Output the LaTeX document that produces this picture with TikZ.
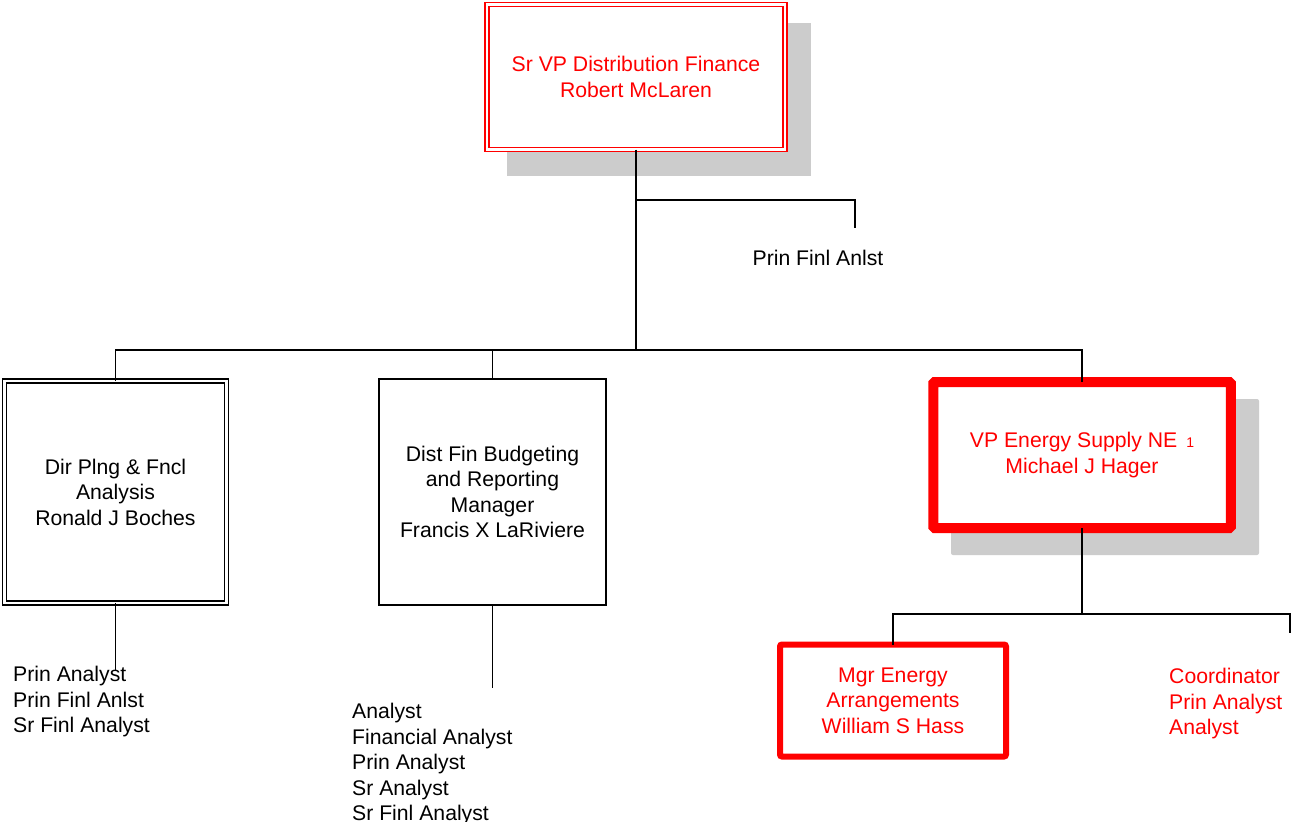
\documentclass[tikz,border=0pt]{standalone}
\usepackage{fontspec}
\setmainfont{Liberation Sans}
\definecolor{rd}{RGB}{255,0,0}
\definecolor{shd}{RGB}{204,204,204}
\begin{document}
\begin{tikzpicture}[x=1pt,y=-1pt,
  txt/.style={font=\fontsize{21.2}{25.5}\selectfont, align=center, inner sep=0pt, outer sep=0pt},
  lst/.style={font=\fontsize{21.2}{25.5}\selectfont, align=left, inner sep=0pt, anchor=north west},
  boxbase/.style={txt, fill=white, draw},
  dblbox/.style={boxbase, double, line width=1.6pt, double distance=2.4pt},
  conn/.style={draw=black, line width=1.5pt},
  shadowbox/.style={fill=shd, draw=none}]
\useasboundingbox (0,0) rectangle (1291,822);
\fill[white] (0,0) rectangle (1291,822);
% shadows
\fill[shd] (507,23) rectangle (811,176);
\fill[shd, rounded corners=2pt] (951,399) rectangle (1259,555);
% connector coordinates
\coordinate (bus1) at (636,350);
\coordinate (pf) at (636,200);
\coordinate (pfend) at (855,228);
\coordinate (bus2) at (1082,614);
\coordinate (coordend) at (1290,633);
\coordinate (leftend) at (115.5,670);
\coordinate (midend) at (492.5,688);
% boxes
\node[dblbox, draw=rd, text=rd, minimum width=298pt, minimum height=145pt] (top) at (636,77)
  {Sr VP Distribution Finance\\Robert McLaren};
\node[dblbox, draw=black, minimum width=222pt, minimum height=222pt] (left) at (115.5,492)
  {Dir Plng \& Fncl\\Analysis\\Ronald J Boches};
\node[boxbase, line width=1.3pt, minimum width=227pt, minimum height=226pt] (mid) at (492.5,492)
  {Dist Fin Budgeting\\and Reporting\\Manager\\Francis X LaRiviere};
\node[boxbase, draw=rd, text=rd, line width=10pt, rounded corners=1.5pt, minimum width=297.5pt, minimum height=146pt] (vp) at (1082,455)
  {VP Energy Supply NE\hspace{9pt}{\fontsize{14}{14}\selectfont 1}\\Michael J Hager};
\node[boxbase, draw=rd, text=rd, line width=6pt, rounded corners=2pt, minimum width=226pt, minimum height=112pt] (mgr) at (893,700.5)
  {Mgr Energy\\Arrangements\\William S Hass};
% connector lines
\draw[conn] (top.south) -- (bus1);
\draw[conn] (pf) -| (pfend);
\draw[conn] (left.north) |- (bus1) -| (vp.north);
\draw[conn] (mid.north) -- (mid.north |- bus1);
\draw[conn] (left.south) -- (leftend);
\draw[conn] (mid.south) -- (midend);
\draw[conn] (vp.south) -- (bus2);
\draw[conn] (mgr.north) |- (bus2) -| (coordend);
% texts
\node[txt] (pfa) at (818,258) {Prin Finl Anlst};
\node[lst] (leftlist) at (13,666) {Prin Analyst\\Prin Finl Anlst\\Sr Finl Analyst};
\node[lst] (midlist) at (352,703) {Analyst\\Financial Analyst\\Prin Analyst\\Sr Analyst\\Sr Finl Analyst};
\node[lst, text=rd] (coordlist) at (1169,668) {Coordinator\\Prin Analyst\\Analyst};
\end{tikzpicture}
\end{document}
